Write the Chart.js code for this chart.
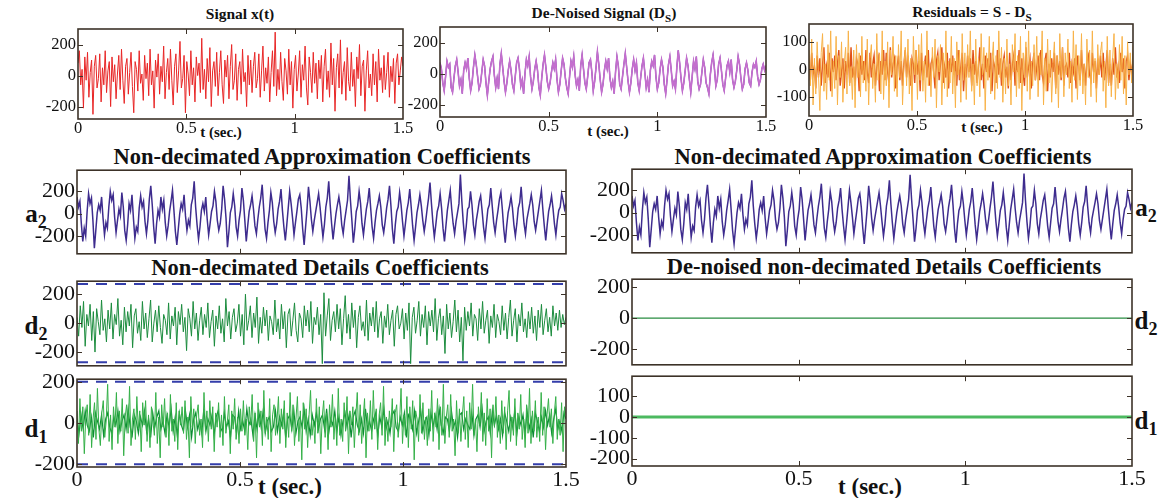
<!DOCTYPE html>
<html>
<head>
<meta charset="utf-8">
<script src="https://cdn.jsdelivr.net/npm/chart.js@4.4.0/dist/chart.umd.min.js"></script>
<style>
  body { margin: 0; background: #fff; width: 1158px; height: 498px; position: relative; overflow: hidden; font-family: 'Liberation Serif', 'Times New Roman', serif; }
  canvas { position: absolute; }
  .lbl { position: absolute; font-weight: bold; color: #111; white-space: nowrap; transform: translate(-50%, -50%); line-height: 1; }
  .lbl sub { font-size: 72%; vertical-align: -0.35em; line-height: 0; }
</style>
</head>
<body>
<div class="lbl" style="left:240px;top:14px;font-size:15.5px">Signal x(t)</div>
<div class="lbl" style="left:604px;top:13px;font-size:15.5px">De-Noised Signal (D<sub>S</sub>)</div>
<div class="lbl" style="left:972px;top:12px;font-size:15.5px">Residuals = S - D<sub>S</sub></div>
<div class="lbl" style="left:221px;top:132px;font-size:15px">t (sec.)</div>
<div class="lbl" style="left:608px;top:131px;font-size:15px">t (sec.)</div>
<div class="lbl" style="left:982px;top:127px;font-size:15px">t (sec.)</div>
<div class="lbl" style="left:322px;top:157px;font-size:22.5px">Non-decimated Approximation Coefficients</div>
<div class="lbl" style="left:883px;top:157px;font-size:22.5px">Non-decimated Approximation Coefficients</div>
<div class="lbl" style="left:320px;top:268px;font-size:22.5px">Non-decimated Details Coefficients</div>
<div class="lbl" style="left:884px;top:267px;font-size:22.5px">De-noised non-decimated Details Coefficients</div>
<div class="lbl" style="left:36px;top:213px;font-size:25px">a<sub>2</sub></div>
<div class="lbl" style="left:36px;top:325px;font-size:25px">d<sub>2</sub></div>
<div class="lbl" style="left:36px;top:428px;font-size:25px">d<sub>1</sub></div>
<div class="lbl" style="left:1146px;top:207px;font-size:25px">a<sub>2</sub></div>
<div class="lbl" style="left:1146px;top:320px;font-size:25px">d<sub>2</sub></div>
<div class="lbl" style="left:1146px;top:420px;font-size:25px">d<sub>1</sub></div>
<div class="lbl" style="left:290px;top:486px;font-size:23px">t (sec.)</div>
<div class="lbl" style="left:870px;top:486px;font-size:23px">t (sec.)</div>
<script>
const T_END = 1.5;
const timeTicks = [0, 0.5, 1, 1.5];
const ticks200 = [-200, 0, 200];
const ticks100 = [-100, 0, 100];
const ticksD1 = [-200, -100, 0, 100];

// Signal x(t)
const signalX = [
  80, 160, -60, 40, -210, 120, -30, 150, -140, 20, 100, -250, 60, 130, -80, -20, 140, -170, 50, -60, 160, -110, 30, 90, -200, 120, -40, 70, -150, 10,
  130, -90, 170, -30, -180, 60, 110, -120, 20, 150, -70, -240, 90, 40, -100, 160, -50, 10, -160, 130, -20, 80, -130, 170, -60, 30, -210, 100, -10, 140,
  -120, 60, -40, 190, -150, 20, 110, -90, 170, -30, -190, 60, 140, -110, 30, 220, -80, -20, 130, -240, 90, 10, -130, 160, -60, 50, -170, 120, 0, 80,
  -110, 240, -90, 40, -150, 110, -40, 180, -200, 30, 90, -70, 150, -130, 20, 160, -60, -180, 100, -10, 130, -150, 60, 200, -90, -30, 140, -160, 40, 90,
  -120, 170, -40, 20, -200, 130, -60, 100, -110, 60, 150, -80, -20, 140, -140, 30, 190, -100, 50, -50, 120, -170, 20, 160, -70, 280, -130, 40, -90, 150,
  -40, -160, 110, 30, -120, 170, -60, 90, -210, 40, 130, -100, 10, 160, -140, 70, -30, 190, -80, -190, 120, 20, -110, 150, -50, 80, -150, 100, -20, 130,
  -170, 60, 170, -90, 30, -140, 210, -60, 110, -230, 50, 140, -80, 230, -120, 20, 90, -160, 180, -40, -100, 150, -70, 40, -200, 120, -20, 200, -130, 60,
  100, -230, 30, 160, -80, 10, -130, 140, -60, 90, -170, 170, -30, 50, -110, 130, -90, 20, 150, -140, 60, -40, 110, -180, 80, 140, -60, 30, 120, 60
];

// De-noised signal Ds
const denoised = [
  70, 30, -60, -110, -20, 80, 40, 60, -90, -120, -30, 50, 90, 10, -80, -40, -130, 20, 70, 30, 100, -30, -110, -60, 40, 120, 60, -20, -100, -70,
  10, 90, 50, -60, -140, -50, 30, 80, 110, -10, -90, -30, -100, 60, 130, 40, -50, -120, -60, 20, 80, 20, -70, -110, -20, 70, 100, 30, -80, -40,
  -130, 0, 90, 50, 110, -20, -100, -50, 30, 80, 20, -90, -140, -30, 60, 120, 40, -50, -100, -60, 10, 70, 30, 90, -40, -120, -70, 20, 100, 60,
  -30, -90, -130, -20, 80, 40, 110, -10, -80, -40, -110, 50, 120, 30, -60, -100, -20, 70, 90, 10, -110, -50, 40, 140, 60, -40, -120, -70, 20, 80,
  30, 100, -30, -90, -50, -130, 10, 110, 50, -70, -100, -20, 60, 130, 40, -50, -120, -60, 30, 90, 20, 70, -60, -110, -30, 50, 100, 10, -90, -40,
  -120, 20, 80, 50, 120, -20, -100, -60, 30, 90, 40, -70, -130, -40, 60, 110, 20, -80, -50, -100, 40, 150, 70, -30, -110, -60, 20, 100, 50, -40,
  -120, -20, 80, 30, 110, -50, -100, -70, 10, 90, 40, -60, -90, -130, -10, 70, 120, 30, -80, -40, 60, 100, 20, -70, -110, -30, 50, 80, 10, 90,
  -40, -90, -50, 20, 110, 60, -30, -100, -70, 30, 70, 20, -60, -80, 10, 60, 40, 80, -20, -70, -40, 30, 60, 20, 50
];

// Residuals = S - Ds (wide spikes and central band)
const residualsWide = [
  70, -60, 110, -130, 40, -90, 100, -20, -150, 60, 130, -80, 20, -110, 90, -40, 140, -100, 30, -70, 120, -130, 50, -30,
  100, -120, 20, 80, -90, 140, -60, 10, -110, 70, -140, 90, -30, 60, -100, 120, -50, 30, -80, 110, -130, 40, 90, -70,
  20, -120, 130, -40, 60, -90, 140, -110, 30, -60, 100, -140, 70, -20, 120, -80, 50, -100, 90, -30, 140, -130, 10, 80,
  -60, 110, -90, 40, -150, 120, -20, 70, -110, 90, -40, 130, -80, 30, -120, 140, -60, 20, -100, 80, -30, 110, -140, 50,
  -10, 90, -130, 60, -70, 140, -100, 30, -50, 120, -90, 40, -140, 100, -20, 70, -120, 130, -40, 60, -110, 90, -30, 140,
  -80, 20, -130, 110, -60, 40, -100, 130, -20, 80, -150, 60, -40, 120, -90, 30, 100, -110, 50, -70, 140, -30, 80, -120,
  40, -90, 110, -60, 20, -130, 90, -10, 130, -100, 50, -70, 120, -150, 60, -30, 100, -80, 140, -110, 30, -60, 90, -40,
  120, -100, 60, -20, 140, -130, 40, -80, 110, -50, 70, -120, 20, 100, -90, 50, -140, 130, -30, 80, -100, 60, -20, 110,
  -70, 30, -120, 140, -40, 90, -110, 50, -60, 130, -90, 20, -130, 110, -30, 70, -100, 140, -50, 40, -120, 90, -20, 60,
  100, -80, 30, -140, 120, -60, 70, -100, 40, 130, -110, 20, -70, 90, -40, 120, -90, 50, -130, 100, -20, 60, -50, 90
];
const residualsCore = [
  30, -40, 60, -20, 10, -70, 50, -30, 40, -60, 20, 80, -50, 10, -30, 60, -80, 40, -10, 50, -40, 20, 70, -60,
  -10, 40, -70, 30, -20, 60, -50, 80, -30, 10, -60, 40, 20, -80, 50, -20, 30, -40, 70, -10, -50, 60, -30, 20,
  50, -60, 10, 40, -80, 30, -20, 70, -40, 60, -10, -50, 80, -30, 20, 40, -70, 10, 50, -40, 30, -60, 20, 70,
  -30, 50, -10, -60, 40, 20, -50, 70, -20, 30, -80, 60, -40, 10, 50, -30, 70, -60, 20, 40, -10, -70, 30, 60,
  -40, 20, 80, -50, 10, -30, 60, -70, 40, -10, 50, -20, 30, -60, 70, -40, 10, 60, -80, 20, -30, 50, -10, 40,
  -60, 70, -20, 30, -50, 10, 80, -40, 20, -70, 50, -10, 40, -30, 60, -80, 30, 10, -50, 70, -20, 40, -60, 20,
  50, -30, 10, -70, 60, -40, 20, 50, -60, 30, -10, 70, -50, 40, -20, -60, 80, -30, 10, 40, -70, 20, 60, -40,
  10, 50, -40, 70, -20, -50, 30, 60, -80, 20, -30, 40, -10, 60, -70, 50, -20, 30, -40, 80, -60, 10, 20, -30,
  60, -50, 20, -10, 40, -70, 50, 10, -40, 70, -30, 20, -60, 30, 50, -20, -40, 60, -10, 30, -70, 40, -20, 50,
  -30, 60, -40, 10, 70, -50, 20, -60, 40, -20, 80, -30, 10, -50, 60, -10, 40, -70, 30, 50, -40, 20, -10, 30
];

// Non-decimated approximation coefficients a2
const approxA2 = [
  150, 60, 110, -90, -250, -130, -200, 20, 180, 90, 140, -60, -310, -150, 10, 80, 30, 150, -40, -190, -80, -130, 60, 200, 120, 170, -30, -170, -60, 40,
  -20, 190, 60, -150, -240, -100, 90, 30, 170, -40, -220, -120, -160, 50, 160, 60, 110, -70, -180, -60, 130, 250, 80, -120, -270, -90, 30, -30, 150, 40,
  120, -80, -200, -110, 20, 110, 210, 30, -160, -280, -140, 0, 90, 40, 170, -20, -150, -60, -110, 80, 140, 290, 60, -100, -230, -120, 30, 90, 20, 150,
  -50, -190, -90, 20, 70, 200, 110, -60, -150, -90, 40, 250, 130, -40, -300, -160, 10, 60, 180, 70, -120, -200, -60, 30, 230, 120, -60, -250, -110, 20,
  80, 160, 40, -110, -180, -50, 60, 140, 260, 50, -140, -220, -80, 30, 190, 100, -70, -170, -90, 40, 110, 220, 30, -120, -240, -100, 50, 200, 90, -40,
  -190, -80, 20, 130, 170, 50, -140, -280, -120, 40, 240, 110, -50, -160, -60, 20, 100, 180, 60, -80, -210, -100, 60, 140, 290, 80, -90, -230, -110, 0,
  80, 150, 60, -100, -180, -60, 30, 120, 340, 120, -60, -260, -140, 20, 70, 200, 90, -90, -190, -70, 40, 110, 230, 50, -120, -220, -80, 30, 90, 160,
  60, -100, -170, -70, 50, 130, 250, 70, -140, -270, -100, 20, 60, 190, 80, -70, -200, -90, 30, 100, 220, 60, -110, -240, -120, 10, 80, 170, 70, -60,
  -160, -70, 40, 140, 280, 90, -80, -210, -100, 20, 70, 180, 50, -130, -250, -110, 30, 120, 210, 40, -90, -180, -70, 10, 90, 350, 110, -80, -230, -120,
  40, 60, 200, 80, -100, -190, -60, 20, 110, 160, 30, -120, -220, -90, 40, 80, 230, 70, -80, -170, -60, 30, 130, 190, 40, -140, -260, -110, 10, 70,
  150, 50, -100, -200, -90, 50, 100, 240, 60, -90, -180, -50, 20, 90, 170, 80, -70, -150, -60, 30, 120, 210, 40, -110, -240, -100, 20, 80, 160, 50,
  -90, -190, -60, 30, 60, 180, 120, 40, 90
];

// Non-decimated details coefficients d2
const detailD2 = [
  40, -90, 120, -30, 150, -160, 60, -20, 130, -120, 80, -200, 100, 10, -80, 160, -50, 30, -130, 90,
  -40, 140, -110, 60, -10, 170, -90, 20, -150, 110, -60, 80, -20, 130, -170, 50, 100, -70, 10, -120,
  150, -40, 70, -100, 30, 160, -130, 0, 90, -60, 120, -30, -140, 60, 20, -80, 140, -110, 50, -20,
  110, -150, 80, -10, 130, -60, 40, -190, 100, 30, -90, 150, -40, 70, -120, 20, 110, -80, 60, -30,
  140, -100, 10, 90, -160, 50, -40, 120, -70, 30, -130, 170, -20, 80, -110, 40, 100, -60, 0, 130,
  -90, 60, -150, 200, -50, 20, 120, -100, 70, -30, 180, -140, 40, -70, 110, -20, 90, -120, 50, 10,
  -80, 160, -60, 30, -110, 130, -40, 80, -170, 60, 100, -90, 20, 140, -50, -130, 70, 30, -100, 120,
  -20, 90, -60, 150, -140, 40, -10, 110, -80, 60, -280, 210, -90, 50, 170, -120, 20, 80, -60, 130,
  -40, 100, -150, 30, 190, -70, 60, -110, 140, -30, 90, -170, 40, 120, -50, 10, -90, 160, -120, 70,
  -20, 110, -60, 150, -100, 30, 80, -140, 50, -30, 130, -80, 20, 90, -160, 60, 120, -40, 0, 100,
  -110, 70, -50, 140, -280, 40, 110, -70, 20, 150, -90, 60, -30, 120, -150, 80, -20, 90, -60, 170,
  -120, 30, 100, -80, 50, -210, 130, -40, 70, -100, 10, 160, -60, 90, -130, 40, -260, 110, -50, 80,
  -20, 140, -90, 60, 30, -120, 100, -40, 150, -70, 20, 90, -140, 50, -30, 130, -100, 60, 10, -80,
  120, -50, 70, -110, 40, 160, -90, 20, 100, -130, 60, -20, 140, -60, 30, -100, 80, -40, 110, -70,
  50, -120, 90, -30, 130, -80, 20, 100, -60, 40, -90, 120, -20, 70, -50, 90, -30, 60, -10, 40
];

// Non-decimated details coefficients d1 (spikes and dense core)
const detailD1 = [
  60, -100, 120, -40, 80, -150, 30, 90, -60, 140, -120, 20, 100, -80, 170, -30, -110, 50, 110, -70, 10, 190, -90, 40,
  -130, 80, -20, 150, -100, 60, -40, 120, -160, 30, 90, -50, 180, -110, 20, 70, -80, 130, -30, 60, -140, 100, -10, 110,
  -90, 40, -120, 80, 10, -60, 150, -100, 30, -170, 90, -20, 120, -70, 50, -110, 140, -40, 20, -90, 100, -130, 60, -10,
  80, -50, 110, -80, 30, -170, 130, -20, 70, -100, 40, 90, -60, 20, -120, 150, -40, 60, -90, 110, -30, 80, -140, 50,
  -20, 100, -70, 40, -110, 130, -50, 10, 90, -150, 60, -30, 120, -80, 30, -100, 70, -40, 110, -60, 20, -130, 80, -10,
  140, -90, 50, -170, 100, -20, 60, -110, 160, -50, 30, -80, 120, -140, 40, 90, -60, 10, 130, -100, 70, -30, 110, -120,
  50, -70, 150, -40, 90, -110, 20, 130, -90, 60, -180, 100, -30, 70, -120, 40, 160, -60, 10, -100, 120, -50, 80, -150,
  30, 110, -70, 50, -130, 90, -20, 140, -80, 40, -110, 170, -60, 20, -90, 100, -40, 130, -150, 60, -10, 80, -120, 30,
  150, -60, 90, -100, 20, 120, -170, 50, -40, 110, -80, 160, -30, 70, -130, 40, 100, -60, 180, -110, 30, -90, 60, -20,
  120, -140, 50, 90, -70, 10, 170, -100, 40, -60, 130, -120, 80, -30, 110, -180, 60, 20, -90, 140, -50, 100, -80, 30,
  -110, 70, -40, 160, -90, 50, -20, 120, -130, 80, -60, 190, -100, 30, 90, -70, 140, -40, 20, -160, 110, -50, 70, -90,
  40, 130, -80, 60, -120, 100, -30, 190, -60, 20, -140, 80, -10, 150, -90, 50, -110, 120, -40, 70, -170, 90, -20, 130,
  -70, 40, -100, 110, -50, 80, -130, 60, 160, -90, 30, -60, 120, -110, 50, -30, 140, -80, 20, -120, 90, -50, 170, -100,
  60, -40, 110, -70, 30, -90, 150, -60, 80, -130, 40, 120, -20, 70, -100, 50, 130, -80, 20, -60, 100, -140, 80, 40
];
const detailD1Core = [
  20, -50, 40, -30, 60, -10, -40, 30, -70, 50, 10, -30, 40, -60, 20, 50, -20, -50, 30, -10, 60, -40, 10, 40,
  -30, 70, -20, -60, 40, 10, -50, 30, -10, 60, -40, 20, -70, 50, -20, 30, 60, -30, 10, -50, 40, -20, 70, -40,
  30, -60, 50, -10, -40, 60, -20, 40, -70, 20, 50, -30, 10, -50, 70, -40, 20, -10, 40, -60, 30, 60, -20, -40,
  50, -20, 10, -70, 40, 30, -50, 60, -30, 10, -40, 70, -10, 20, -60, 40, -30, 50, -20, 60, -50, 10, 30, -40,
  -20, 60, -40, 30, -10, 50, -70, 20, 40, -30, 60, -50, 10, 30, -20, 70, -40, 20, -60, 40, -10, 50, -30, 20,
  40, -30, 70, -50, 20, -10, 60, -40, 30, -60, 10, 50, -20, 40, -70, 30, 60, -10, -40, 20, -50, 70, -30, 10,
  -40, 20, 50, -60, 30, -20, 70, -30, 10, -50, 40, 60, -20, -40, 30, -10, 50, -70, 40, 20, -30, 60, -50, 10,
  60, -40, 10, 30, -60, 50, -20, 40, -30, 70, -10, -50, 30, 20, -40, 60, -20, 10, -70, 40, 50, -30, 20, -10,
  -30, 50, -60, 20, 40, -20, 70, -40, 10, 30, -50, 60, -10, 40, -30, 20, -60, 50, 10, -40, 30, -20, 60, -50,
  30, -10, 40, -50, 60, -30, 20, -70, 50, 10, -40, 30, -20, 60, -10, 40, -50, 20, 70, -30, 10, -40, 50, 20
];

// thresholds (dashed) and de-noised details (all zero)
const thresholdD2 = [270, 270];
const thresholdD1 = [202, 202];
const denoisedD2 = [0, 0];
const denoisedD1 = [0, 0];

const FONT = "'Liberation Serif', 'Times New Roman', serif";

const boxPlugin = {
  id: 'matlabBox',
  afterDraw(chart) {
    const { ctx, chartArea: a, scales } = chart;
    ctx.save();
    ctx.strokeStyle = '#3c3228';
    ctx.lineWidth = 1;
    const L = 5;
    ctx.beginPath();
    scales.y.ticks.forEach(t => {
      const y = Math.round(scales.y.getPixelForValue(t.value)) + 0.5;
      ctx.moveTo(a.left, y); ctx.lineTo(a.left + L, y);
      ctx.moveTo(a.right, y); ctx.lineTo(a.right - L, y);
    });
    scales.x.ticks.forEach(t => {
      const x = Math.round(scales.x.getPixelForValue(t.value)) + 0.5;
      if (x <= a.left + 1 || x >= a.right - 1) return;
      ctx.moveTo(x, a.top); ctx.lineTo(x, a.top + L);
      ctx.moveTo(x, a.bottom); ctx.lineTo(x, a.bottom - L);
    });
    ctx.stroke();
    ctx.lineWidth = 1.6;
    ctx.strokeRect(a.left, a.top, a.right - a.left, a.bottom - a.top);
    ctx.restore();
  }
};

function toPoints(values) {
  const n = values.length;
  return values.map((v, i) => ({ x: i * T_END / (n - 1), y: v }));
}

function panel(box, series, o) {
  const padL = 64, padR = 24, padT = 14, padB = o.padB;
  const W = box.r - box.l + padL + padR, H = box.b - box.t + padT + padB;
  const cv = document.createElement('canvas');
  cv.width = W; cv.height = H;
  cv.style.left = (box.l - padL) + 'px';
  cv.style.top = (box.t - padT) + 'px';
  cv.style.width = W + 'px';
  cv.style.height = H + 'px';
  document.body.appendChild(cv);
  new Chart(cv, {
    type: 'line',
    data: {
      datasets: series.map(s => ({
        data: toPoints(s.values),
        borderColor: s.color,
        borderWidth: s.width || 1,
        borderDash: s.dash || [],
        pointRadius: 0,
        tension: 0
      }))
    },
    options: {
      responsive: false,
      animation: false,
      devicePixelRatio: 1,
      layout: { padding: { top: padT, right: padR, left: 0, bottom: 0 } },
      plugins: { legend: { display: false }, tooltip: { enabled: false } },
      scales: {
        x: {
          type: 'linear', min: 0, max: T_END,
          grid: { display: false, drawTicks: false },
          border: { display: false },
          afterBuildTicks: s => { s.ticks = timeTicks.map(v => ({ value: v })); },
          afterFit: s => { s.height = padB; },
          ticks: {
            display: o.xLabels, autoSkip: false, maxRotation: 0, padding: 0,
            font: { family: FONT, size: o.fs }, color: '#111',
            callback: v => String(v)
          }
        },
        y: {
          type: 'linear', min: o.yMin, max: o.yMax,
          grid: { display: false, drawTicks: false },
          border: { display: false },
          afterBuildTicks: s => { s.ticks = o.yTicks.map(v => ({ value: v })); },
          afterFit: s => { s.width = padL; },
          ticks: {
            padding: 2, font: { family: FONT, size: o.fs }, color: '#111',
            callback: v => String(v)
          }
        }
      }
    },
    plugins: [boxPlugin]
  });
}

// top row
panel({ l: 78, t: 29, r: 403, b: 119 }, [
  { values: signalX, color: 'rgb(232,38,38)', width: 1 }
], { yMin: -280, yMax: 300, yTicks: ticks200, fs: 16.5, xLabels: true, padB: 20 });

panel({ l: 440, t: 27, r: 766, b: 117 }, [
  { values: denoised, color: 'rgb(196,110,206)', width: 1.6 },
  { values: denoised, color: 'rgb(98,40,148)', width: 1.2 }
], { yMin: -280, yMax: 300, yTicks: ticks200, fs: 16.5, xLabels: true, padB: 20 });

panel({ l: 809, t: 24, r: 1133, b: 116 }, [
  { values: residualsWide, color: 'rgb(248,178,72)', width: 1 },
  { values: residualsCore, color: 'rgb(224,82,24)', width: 1.4 }
], { yMin: -170, yMax: 165, yTicks: ticks100, fs: 16.5, xLabels: true, padB: 20 });

// approximation a2
panel({ l: 77, t: 169, r: 566, b: 255 }, [
  { values: approxA2, color: 'rgb(62,44,142)', width: 1.5 }
], { yMin: -360, yMax: 390, yTicks: ticks200, fs: 22, xLabels: false, padB: 14 });

panel({ l: 632, t: 168, r: 1132, b: 254 }, [
  { values: approxA2, color: 'rgb(62,44,142)', width: 1.5 }
], { yMin: -360, yMax: 390, yTicks: ticks200, fs: 22, xLabels: false, padB: 14 });

// details d2
panel({ l: 77, t: 280, r: 566, b: 367 }, [
  { values: detailD2, color: 'rgb(28,140,62)', width: 1 },
  { values: thresholdD2, color: 'rgb(52,62,170)', width: 2, dash: [11, 8] },
  { values: thresholdD2.map(v => -v), color: 'rgb(52,62,170)', width: 2, dash: [11, 8] }
], { yMin: -295, yMax: 290, yTicks: ticks200, fs: 22, xLabels: false, padB: 14 });

panel({ l: 632, t: 278, r: 1132, b: 366 }, [
  { values: denoisedD2, color: 'rgb(40,140,64)', width: 1.2 }
], { yMin: -300, yMax: 250, yTicks: ticks200, fs: 22, xLabels: false, padB: 14 });

// details d1
panel({ l: 77, t: 378, r: 566, b: 467 }, [
  { values: detailD1, color: 'rgb(52,176,72)', width: 1 },
  { values: detailD1Core, color: 'rgb(12,140,52)', width: 1.2 },
  { values: thresholdD1, color: 'rgb(52,62,170)', width: 2, dash: [11, 8] },
  { values: thresholdD1.map(v => -v), color: 'rgb(52,62,170)', width: 2, dash: [11, 8] }
], { yMin: -215, yMax: 215, yTicks: ticks200, fs: 22, xLabels: true, padB: 28 });

panel({ l: 632, t: 375, r: 1132, b: 466 }, [
  { values: denoisedD1, color: 'rgb(76,185,96)', width: 3 }
], { yMin: -235, yMax: 195, yTicks: ticksD1, fs: 22, xLabels: true, padB: 28 });
</script>
</body>
</html>
